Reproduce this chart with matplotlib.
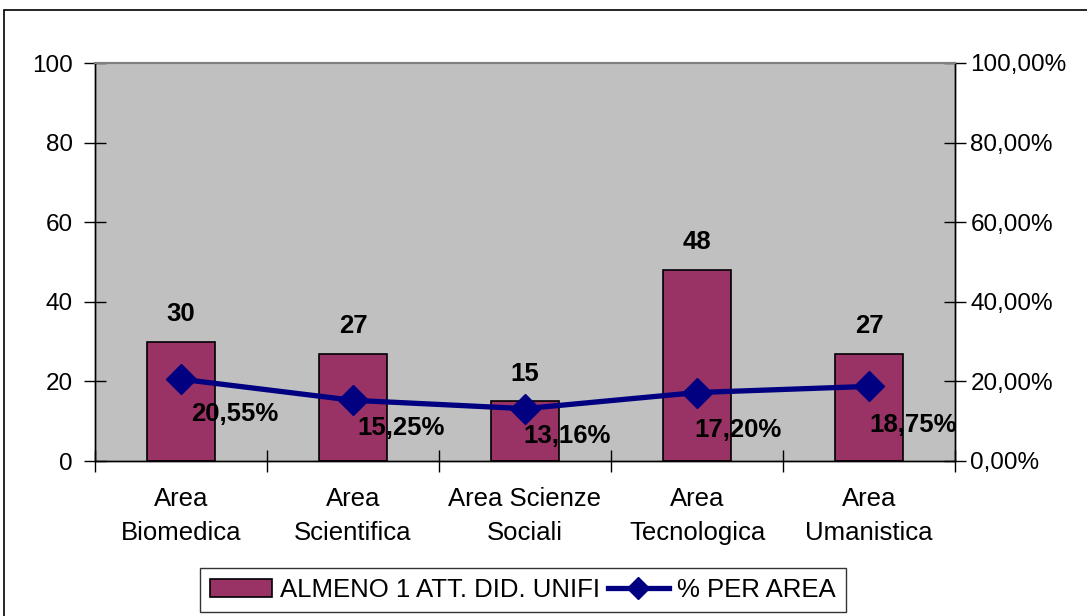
import matplotlib
matplotlib.use("Agg")
import matplotlib.pyplot as plt
from matplotlib.patches import Rectangle
import numpy as np

categories = ["Area\nBiomedica", "Area\nScientifica", "Area Scienze\nSociali", "Area\nTecnologica", "Area\nUmanistica"]
counts = [30, 27, 15, 48, 27]
percents = [20.55, 15.25, 13.16, 17.20, 18.75]
left_ticks = [0, 20, 40, 60, 80, 100]
right_ticks = [0, 20, 40, 60, 80, 100]
bar_label = "ALMENO 1 ATT. DID. UNIFI"
line_label = "% PER AREA"

# label offsets (points) for percentage labels
pct_offsets = [(7, -25), (3, -20), (-1, -20), (-2, -27), (0, -28)]

plt.rcParams['font.family'] = ['Liberation Sans', 'DejaVu Sans']
FS = 18.5
TFS = 17.5

fig = plt.figure(figsize=(10.87, 6.16), dpi=100)
ax = fig.add_axes([95/1087, 1-461/616, 860/1087, 398/616])
ax.set_facecolor('#C0C0C0')

x = np.arange(len(categories))
bars = ax.bar(x, counts, width=0.4, color='#993366', edgecolor='black', linewidth=1.2, zorder=2, label=bar_label)
ax.set_xlim(-0.5, len(categories) - 0.5)
ax.set_ylim(0, 100)
ax.set_yticks(left_ticks)
ax.set_yticklabels([str(t) for t in left_ticks], fontsize=TFS)
ax.set_xticks(np.arange(-0.5, len(categories), 1.0))
ax.set_xticklabels([])
ax.set_xticks(x, minor=True)
ax.set_xticklabels(categories, minor=True, fontsize=FS, linespacing=1.5)
ax.tick_params(axis='x', which='minor', length=0, pad=19)
ax.tick_params(axis='x', which='major', direction='inout', length=16, width=1)
ax.tick_params(axis='y', direction='inout', length=16, width=1, pad=8)

for xi, c in zip(x, counts):
    ax.annotate(str(c), (xi, c), xytext=(0, 20), textcoords='offset points',
                ha='center', va='center', fontsize=FS, fontweight='bold', zorder=5)

ax2 = ax.twinx()
ax2.set_ylim(0, 100)
ax2.set_yticks(right_ticks)
ax2.set_yticklabels([f"{t:.2f}%".replace('.', ',') for t in right_ticks], fontsize=TFS)
ax2.tick_params(axis='y', direction='inout', length=16, width=1, pad=3)
line, = ax2.plot(x, percents, color='#000080', linewidth=3.8, marker='D', markersize=15,
                 markerfacecolor='#000080', markeredgecolor='#000080', zorder=4, label=line_label)
for xi, p, off in zip(x, percents, pct_offsets):
    ax2.annotate(f"{p:.2f}%".replace('.', ','), (xi, p), xytext=off, textcoords='offset points',
                 ha='left', va='center', fontsize=FS, fontweight='bold', zorder=5)

for a in (ax, ax2):
    a.spines['top'].set_color('#808080')
    a.spines['top'].set_linewidth(1.5)
    for s in ('left', 'right', 'bottom'):
        a.spines[s].set_color('black')
        a.spines[s].set_linewidth(1)

leg = fig.legend([bars, line], [bar_label, line_label], loc='center',
                 bbox_to_anchor=(523/1087, 1-590/616), ncol=2, fontsize=FS,
                 frameon=True, fancybox=False, edgecolor='black', handlelength=2.4,
                 handleheight=0.75, handletextpad=0.3, columnspacing=0.3, borderpad=0.4,
                 markerscale=0.75)
leg.get_frame().set_linewidth(1)

fig.patches.append(Rectangle((4/1087, -0.05), 1.1, 1-10/616 + 0.05, transform=fig.transFigure,
                             fill=False, edgecolor='black', linewidth=1.2, clip_on=False))

fig.savefig("out.png", dpi=100)
